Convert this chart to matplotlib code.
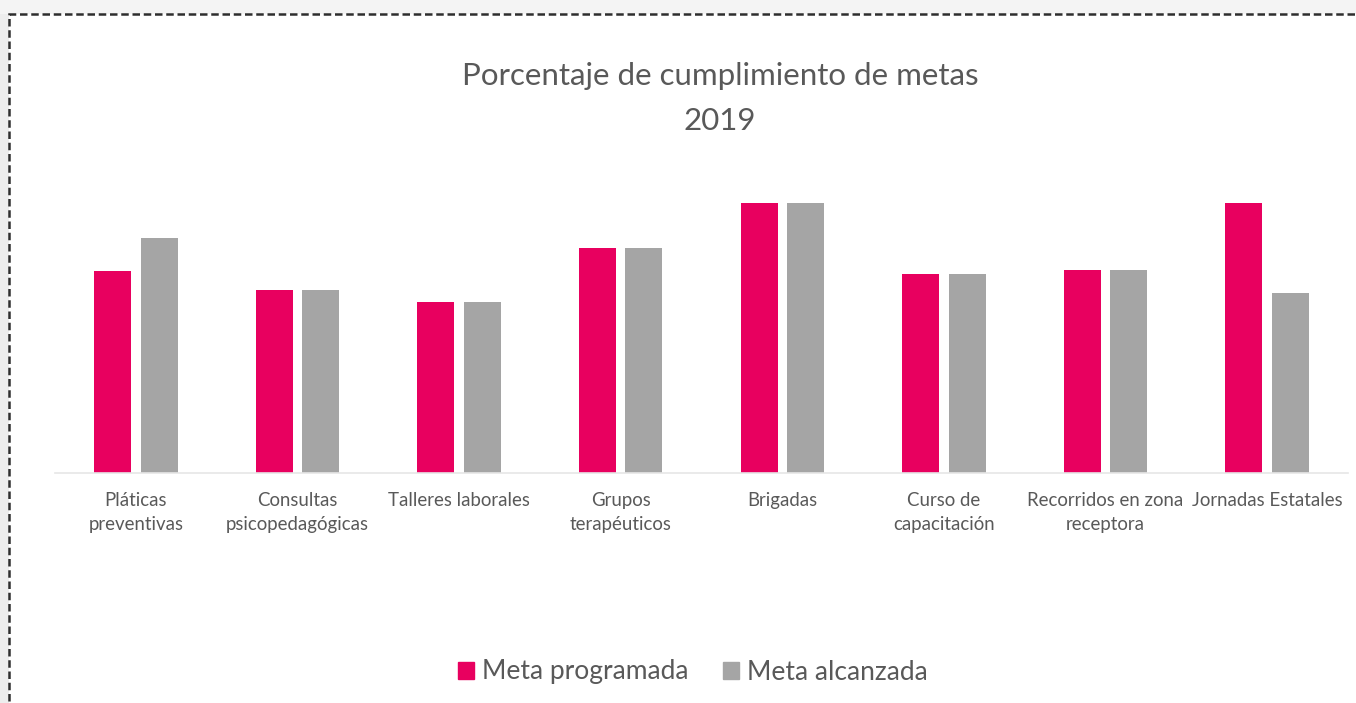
import matplotlib
matplotlib.use("Agg")
import matplotlib.pyplot as plt
import matplotlib.patches as mpatches
import numpy as np

categories = ["Pláticas\npreventivas", "Consultas\npsicopedagógicas", "Talleres laborales",
              "Grupos\nterapéuticos", "Brigadas", "Curso de\ncapacitación",
              "Recorridos en zona\nreceptora", "Jornadas Estatales"]
meta_programada = [74.8, 67.8, 63.3, 83.3, 100, 73.7, 75.2, 100]
meta_alcanzada = [87.0, 67.8, 63.3, 83.3, 100, 73.7, 75.2, 66.7]
series_names = ["Meta programada", "Meta alcanzada"]
colors = ["#E8005F", "#A5A5A5"]

plt.rcParams['font.family'] = ['Lato', 'DejaVu Sans']
txt = "#595959"

W, H = 1356, 703
fig = plt.figure(figsize=(W/100, H/100), dpi=100)

# left textured strip
fig.patches.append(mpatches.Rectangle((0, 0), 9/W, 1, transform=fig.transFigure,
                                      facecolor="#EDEDED", edgecolor="none", zorder=0))
fig.patches.append(mpatches.Rectangle((0, 1-14/H), 1, 14/H, transform=fig.transFigure,
                                      facecolor="#F4F4F4", edgecolor="none", zorder=0))
# dashed border
fig.patches.append(mpatches.Rectangle((9/W, -0.05), 1.1, 1 - 14/H + 0.05, transform=fig.transFigure,
                                      facecolor="white", edgecolor="#2E2E2E", linewidth=1.8,
                                      linestyle=(0, (3, 1.5)), zorder=1))

left, right = 55, 1348
bottom, top = 473, 180
ax = fig.add_axes([left/W, 1-bottom/H, (right-left)/W, (bottom-top)/H])
ax.set_zorder(2)
ax.patch.set_alpha(0)

x = np.arange(len(categories))
bw = 0.229
off = 0.144
ax.bar(x - off, meta_programada, width=bw, color=colors[0], label=series_names[0])
ax.bar(x + off, meta_alcanzada, width=bw, color=colors[1], label=series_names[1])

ymax = 100 * (bottom - top) / (bottom - 203)
ax.set_ylim(0, ymax)
ax.set_xlim(-0.5, len(categories) - 0.5)
for s in ["top", "right", "left"]:
    ax.spines[s].set_visible(False)
ax.spines["bottom"].set_color("#E6E6E6")
ax.spines["bottom"].set_linewidth(1.2)
ax.set_yticks([])
ax.set_xticks(x)
ax.set_xticklabels(categories, fontsize=13.4, color=txt, linespacing=1.5)
ax.tick_params(axis="x", length=0, pad=14)

fig.text(720/W, 1-76/H, "Porcentaje de cumplimiento de metas", ha="center", va="center",
         fontsize=22.5, color=txt)
fig.text(720/W, 1-121/H, "2019", ha="center", va="center", fontsize=22.5, color=txt)

handles = [mpatches.Patch(color=c) for c in colors]
fig.legend(handles, series_names, loc="center", bbox_to_anchor=(693/W, 1-672/H), ncol=2,
           frameon=False, fontsize=19, labelcolor=txt, handlelength=0.6, handleheight=0.6,
           handletextpad=0.3, columnspacing=1.3)

fig.savefig("out.png", dpi=100)
